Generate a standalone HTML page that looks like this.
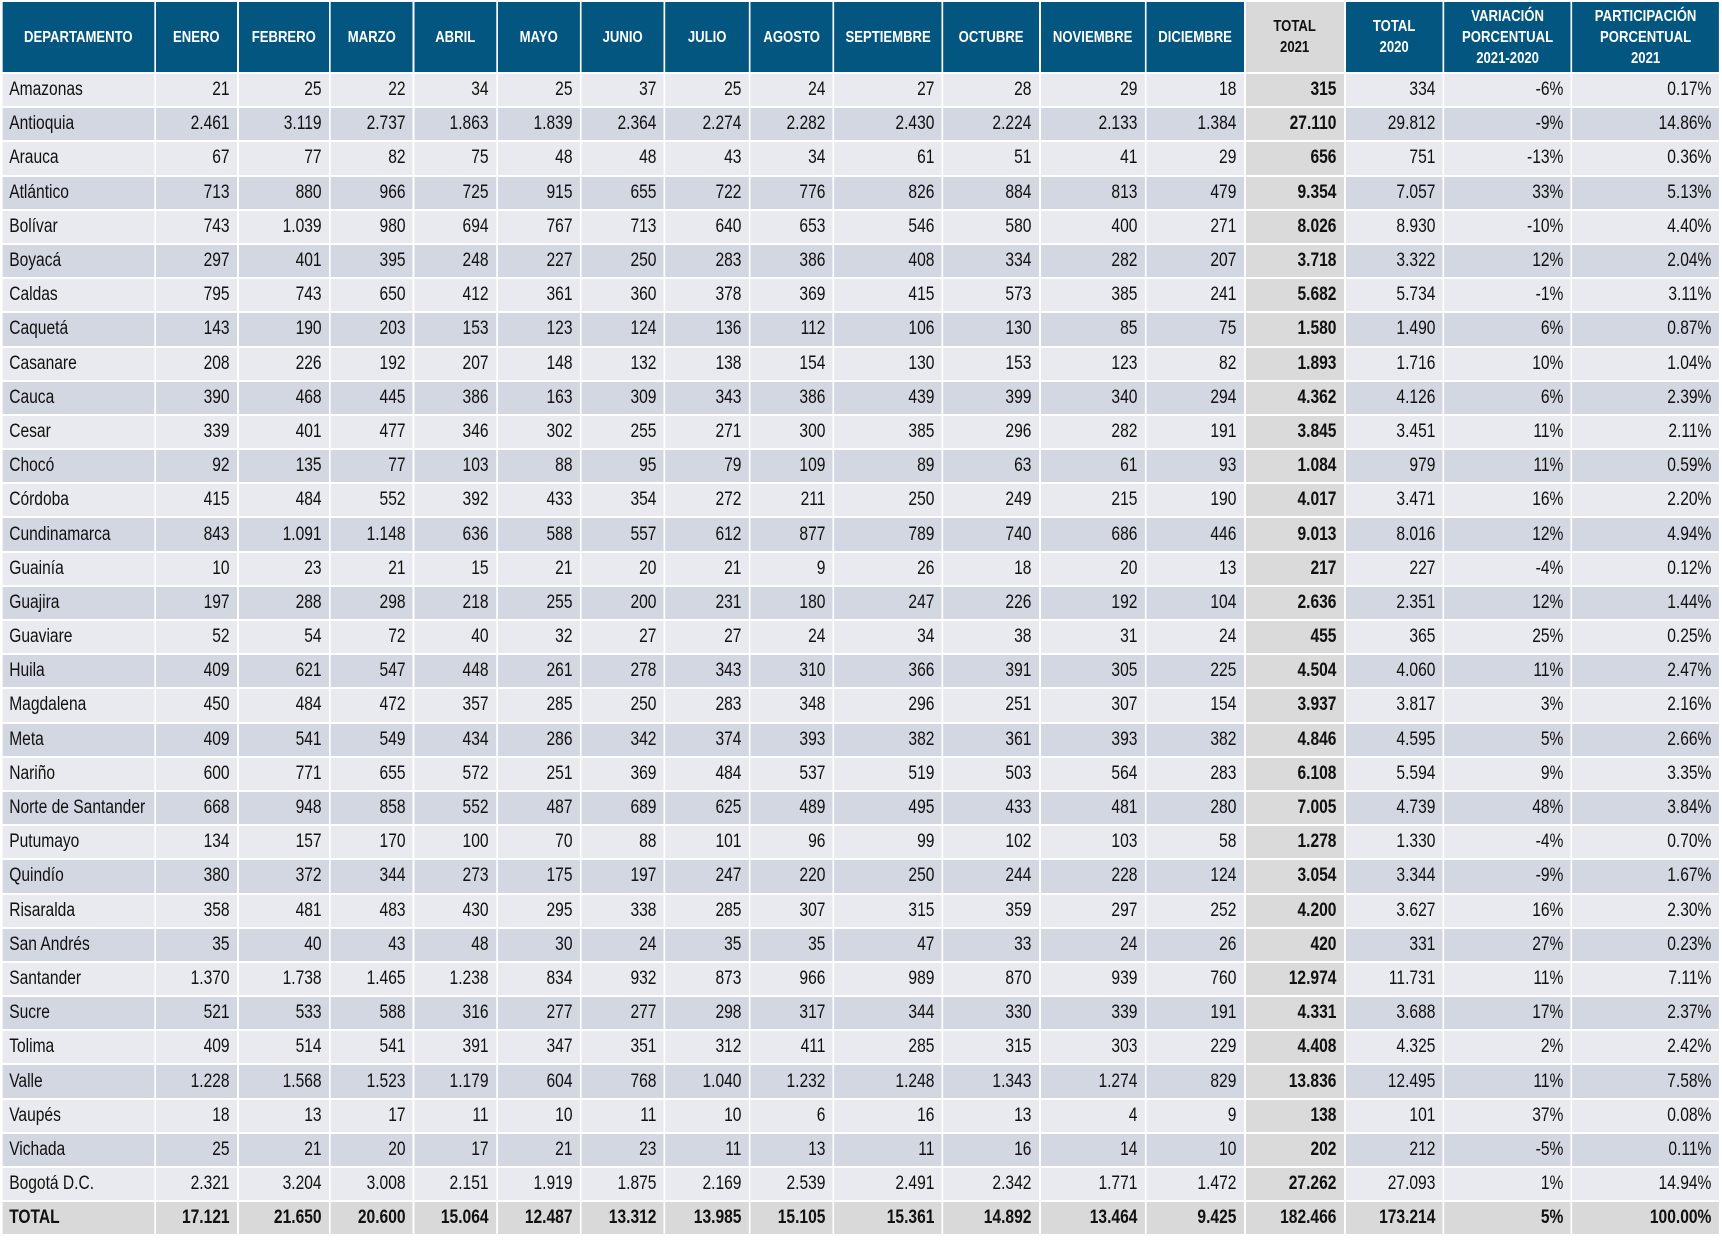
<!DOCTYPE html>
<html><head><meta charset="utf-8"><style>
body{margin:0;background:#fff;width:1722px;height:1242px;overflow:hidden;position:relative}
table{position:absolute;left:1px;top:0px;width:2095px;border-collapse:collapse;table-layout:fixed;font-family:"Liberation Sans",sans-serif;color:#111;transform:scaleX(0.82);transform-origin:0 0}
td,th{border:2px solid #fff;padding:0 8px;white-space:nowrap;overflow:hidden;line-height:20px}
thead tr{height:72px}
tbody tr{height:34.2px}
th{background:#03567f;color:#fff;font-size:16px;font-weight:bold;text-align:center;line-height:21px}
th.t21{background:#d9d9d9;color:#111}
td{font-size:19px;text-align:right;padding-right:9px}
td:first-child{text-align:left;padding-left:8px}
tbody tr:nth-child(odd) td{background:#e9eaef}
tbody tr:nth-child(even) td{background:#d3d7e1}
tbody tr td.b{background:#dadada;font-weight:bold}
tr.tot td{background:#d9d9d9 !important;font-weight:bold}
</style></head><body>
<table>
<colgroup><col style="width:186.6px"><col style="width:101.2px"><col style="width:112.2px"><col style="width:102.4px"><col style="width:101.2px"><col style="width:102.4px"><col style="width:102.4px"><col style="width:103.7px"><col style="width:102.4px"><col style="width:132.9px"><col style="width:118.3px"><col style="width:129.3px"><col style="width:120.7px"><col style="width:122px"><col style="width:120.7px"><col style="width:156.1px"><col style="width:180.5px"></colgroup>
<thead><tr><th>DEPARTAMENTO</th><th>ENERO</th><th>FEBRERO</th><th>MARZO</th><th>ABRIL</th><th>MAYO</th><th>JUNIO</th><th>JULIO</th><th>AGOSTO</th><th>SEPTIEMBRE</th><th>OCTUBRE</th><th>NOVIEMBRE</th><th>DICIEMBRE</th><th class="t21">TOTAL<br>2021</th><th>TOTAL<br>2020</th><th>VARIACIÓN<br>PORCENTUAL<br>2021-2020</th><th>PARTICIPACIÓN<br>PORCENTUAL<br>2021</th></tr></thead>
<tbody>
<tr><td>Amazonas</td><td>21</td><td>25</td><td>22</td><td>34</td><td>25</td><td>37</td><td>25</td><td>24</td><td>27</td><td>28</td><td>29</td><td>18</td><td class="b">315</td><td>334</td><td>-6%</td><td>0.17%</td></tr>
<tr><td>Antioquia</td><td>2.461</td><td>3.119</td><td>2.737</td><td>1.863</td><td>1.839</td><td>2.364</td><td>2.274</td><td>2.282</td><td>2.430</td><td>2.224</td><td>2.133</td><td>1.384</td><td class="b">27.110</td><td>29.812</td><td>-9%</td><td>14.86%</td></tr>
<tr><td>Arauca</td><td>67</td><td>77</td><td>82</td><td>75</td><td>48</td><td>48</td><td>43</td><td>34</td><td>61</td><td>51</td><td>41</td><td>29</td><td class="b">656</td><td>751</td><td>-13%</td><td>0.36%</td></tr>
<tr><td>Atlántico</td><td>713</td><td>880</td><td>966</td><td>725</td><td>915</td><td>655</td><td>722</td><td>776</td><td>826</td><td>884</td><td>813</td><td>479</td><td class="b">9.354</td><td>7.057</td><td>33%</td><td>5.13%</td></tr>
<tr><td>Bolívar</td><td>743</td><td>1.039</td><td>980</td><td>694</td><td>767</td><td>713</td><td>640</td><td>653</td><td>546</td><td>580</td><td>400</td><td>271</td><td class="b">8.026</td><td>8.930</td><td>-10%</td><td>4.40%</td></tr>
<tr><td>Boyacá</td><td>297</td><td>401</td><td>395</td><td>248</td><td>227</td><td>250</td><td>283</td><td>386</td><td>408</td><td>334</td><td>282</td><td>207</td><td class="b">3.718</td><td>3.322</td><td>12%</td><td>2.04%</td></tr>
<tr><td>Caldas</td><td>795</td><td>743</td><td>650</td><td>412</td><td>361</td><td>360</td><td>378</td><td>369</td><td>415</td><td>573</td><td>385</td><td>241</td><td class="b">5.682</td><td>5.734</td><td>-1%</td><td>3.11%</td></tr>
<tr><td>Caquetá</td><td>143</td><td>190</td><td>203</td><td>153</td><td>123</td><td>124</td><td>136</td><td>112</td><td>106</td><td>130</td><td>85</td><td>75</td><td class="b">1.580</td><td>1.490</td><td>6%</td><td>0.87%</td></tr>
<tr><td>Casanare</td><td>208</td><td>226</td><td>192</td><td>207</td><td>148</td><td>132</td><td>138</td><td>154</td><td>130</td><td>153</td><td>123</td><td>82</td><td class="b">1.893</td><td>1.716</td><td>10%</td><td>1.04%</td></tr>
<tr><td>Cauca</td><td>390</td><td>468</td><td>445</td><td>386</td><td>163</td><td>309</td><td>343</td><td>386</td><td>439</td><td>399</td><td>340</td><td>294</td><td class="b">4.362</td><td>4.126</td><td>6%</td><td>2.39%</td></tr>
<tr><td>Cesar</td><td>339</td><td>401</td><td>477</td><td>346</td><td>302</td><td>255</td><td>271</td><td>300</td><td>385</td><td>296</td><td>282</td><td>191</td><td class="b">3.845</td><td>3.451</td><td>11%</td><td>2.11%</td></tr>
<tr><td>Chocó</td><td>92</td><td>135</td><td>77</td><td>103</td><td>88</td><td>95</td><td>79</td><td>109</td><td>89</td><td>63</td><td>61</td><td>93</td><td class="b">1.084</td><td>979</td><td>11%</td><td>0.59%</td></tr>
<tr><td>Córdoba</td><td>415</td><td>484</td><td>552</td><td>392</td><td>433</td><td>354</td><td>272</td><td>211</td><td>250</td><td>249</td><td>215</td><td>190</td><td class="b">4.017</td><td>3.471</td><td>16%</td><td>2.20%</td></tr>
<tr><td>Cundinamarca</td><td>843</td><td>1.091</td><td>1.148</td><td>636</td><td>588</td><td>557</td><td>612</td><td>877</td><td>789</td><td>740</td><td>686</td><td>446</td><td class="b">9.013</td><td>8.016</td><td>12%</td><td>4.94%</td></tr>
<tr><td>Guainía</td><td>10</td><td>23</td><td>21</td><td>15</td><td>21</td><td>20</td><td>21</td><td>9</td><td>26</td><td>18</td><td>20</td><td>13</td><td class="b">217</td><td>227</td><td>-4%</td><td>0.12%</td></tr>
<tr><td>Guajira</td><td>197</td><td>288</td><td>298</td><td>218</td><td>255</td><td>200</td><td>231</td><td>180</td><td>247</td><td>226</td><td>192</td><td>104</td><td class="b">2.636</td><td>2.351</td><td>12%</td><td>1.44%</td></tr>
<tr><td>Guaviare</td><td>52</td><td>54</td><td>72</td><td>40</td><td>32</td><td>27</td><td>27</td><td>24</td><td>34</td><td>38</td><td>31</td><td>24</td><td class="b">455</td><td>365</td><td>25%</td><td>0.25%</td></tr>
<tr><td>Huila</td><td>409</td><td>621</td><td>547</td><td>448</td><td>261</td><td>278</td><td>343</td><td>310</td><td>366</td><td>391</td><td>305</td><td>225</td><td class="b">4.504</td><td>4.060</td><td>11%</td><td>2.47%</td></tr>
<tr><td>Magdalena</td><td>450</td><td>484</td><td>472</td><td>357</td><td>285</td><td>250</td><td>283</td><td>348</td><td>296</td><td>251</td><td>307</td><td>154</td><td class="b">3.937</td><td>3.817</td><td>3%</td><td>2.16%</td></tr>
<tr><td>Meta</td><td>409</td><td>541</td><td>549</td><td>434</td><td>286</td><td>342</td><td>374</td><td>393</td><td>382</td><td>361</td><td>393</td><td>382</td><td class="b">4.846</td><td>4.595</td><td>5%</td><td>2.66%</td></tr>
<tr><td>Nariño</td><td>600</td><td>771</td><td>655</td><td>572</td><td>251</td><td>369</td><td>484</td><td>537</td><td>519</td><td>503</td><td>564</td><td>283</td><td class="b">6.108</td><td>5.594</td><td>9%</td><td>3.35%</td></tr>
<tr><td>Norte de Santander</td><td>668</td><td>948</td><td>858</td><td>552</td><td>487</td><td>689</td><td>625</td><td>489</td><td>495</td><td>433</td><td>481</td><td>280</td><td class="b">7.005</td><td>4.739</td><td>48%</td><td>3.84%</td></tr>
<tr><td>Putumayo</td><td>134</td><td>157</td><td>170</td><td>100</td><td>70</td><td>88</td><td>101</td><td>96</td><td>99</td><td>102</td><td>103</td><td>58</td><td class="b">1.278</td><td>1.330</td><td>-4%</td><td>0.70%</td></tr>
<tr><td>Quindío</td><td>380</td><td>372</td><td>344</td><td>273</td><td>175</td><td>197</td><td>247</td><td>220</td><td>250</td><td>244</td><td>228</td><td>124</td><td class="b">3.054</td><td>3.344</td><td>-9%</td><td>1.67%</td></tr>
<tr><td>Risaralda</td><td>358</td><td>481</td><td>483</td><td>430</td><td>295</td><td>338</td><td>285</td><td>307</td><td>315</td><td>359</td><td>297</td><td>252</td><td class="b">4.200</td><td>3.627</td><td>16%</td><td>2.30%</td></tr>
<tr><td>San Andrés</td><td>35</td><td>40</td><td>43</td><td>48</td><td>30</td><td>24</td><td>35</td><td>35</td><td>47</td><td>33</td><td>24</td><td>26</td><td class="b">420</td><td>331</td><td>27%</td><td>0.23%</td></tr>
<tr><td>Santander</td><td>1.370</td><td>1.738</td><td>1.465</td><td>1.238</td><td>834</td><td>932</td><td>873</td><td>966</td><td>989</td><td>870</td><td>939</td><td>760</td><td class="b">12.974</td><td>11.731</td><td>11%</td><td>7.11%</td></tr>
<tr><td>Sucre</td><td>521</td><td>533</td><td>588</td><td>316</td><td>277</td><td>277</td><td>298</td><td>317</td><td>344</td><td>330</td><td>339</td><td>191</td><td class="b">4.331</td><td>3.688</td><td>17%</td><td>2.37%</td></tr>
<tr><td>Tolima</td><td>409</td><td>514</td><td>541</td><td>391</td><td>347</td><td>351</td><td>312</td><td>411</td><td>285</td><td>315</td><td>303</td><td>229</td><td class="b">4.408</td><td>4.325</td><td>2%</td><td>2.42%</td></tr>
<tr><td>Valle</td><td>1.228</td><td>1.568</td><td>1.523</td><td>1.179</td><td>604</td><td>768</td><td>1.040</td><td>1.232</td><td>1.248</td><td>1.343</td><td>1.274</td><td>829</td><td class="b">13.836</td><td>12.495</td><td>11%</td><td>7.58%</td></tr>
<tr><td>Vaupés</td><td>18</td><td>13</td><td>17</td><td>11</td><td>10</td><td>11</td><td>10</td><td>6</td><td>16</td><td>13</td><td>4</td><td>9</td><td class="b">138</td><td>101</td><td>37%</td><td>0.08%</td></tr>
<tr><td>Vichada</td><td>25</td><td>21</td><td>20</td><td>17</td><td>21</td><td>23</td><td>11</td><td>13</td><td>11</td><td>16</td><td>14</td><td>10</td><td class="b">202</td><td>212</td><td>-5%</td><td>0.11%</td></tr>
<tr><td>Bogotá D.C.</td><td>2.321</td><td>3.204</td><td>3.008</td><td>2.151</td><td>1.919</td><td>1.875</td><td>2.169</td><td>2.539</td><td>2.491</td><td>2.342</td><td>1.771</td><td>1.472</td><td class="b">27.262</td><td>27.093</td><td>1%</td><td>14.94%</td></tr>
<tr class="tot"><td>TOTAL</td><td>17.121</td><td>21.650</td><td>20.600</td><td>15.064</td><td>12.487</td><td>13.312</td><td>13.985</td><td>15.105</td><td>15.361</td><td>14.892</td><td>13.464</td><td>9.425</td><td class="b">182.466</td><td>173.214</td><td>5%</td><td>100.00%</td></tr>
</tbody></table>
</body></html>
